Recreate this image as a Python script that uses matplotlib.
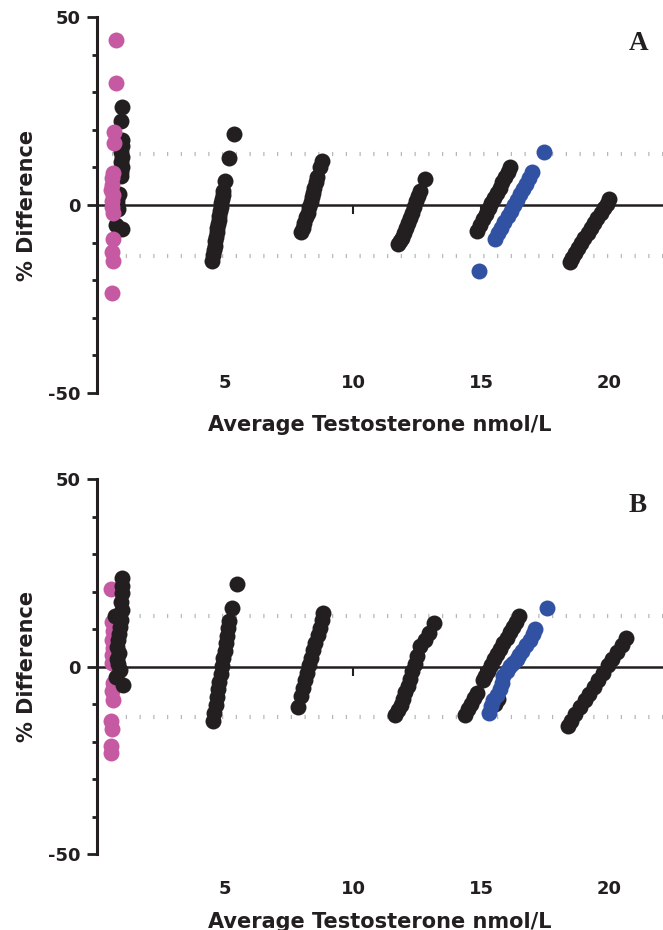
import matplotlib
matplotlib.use('Agg')
import matplotlib.pyplot as plt
from matplotlib.ticker import MultipleLocator

plt.rcParams['font.family'] = ['DejaVu Sans']
plt.rcParams['font.weight'] = 'bold'
plt.rcParams['axes.unicode_minus'] = False  # Prism-style hyphen on "-50"

BLACK = '#231f20'
PINK = '#c65aa2'
BLUE = '#3151a3'

# ---- panel A ----
# lowest level (pink = below the limit, black = the rest)
a_low_pink_x = [0.76, 0.74, 0.68, 0.67, 0.62, 0.58, 0.60, 0.56, 0.63, 0.59, 0.57, 0.61, 0.62, 0.58, 0.61, 0.57]
a_low_pink_y = [43.8, 32.4, 19.3, 16.5, 8.6, 7.2, 5.4, 3.9, 2.6, 1.0, -0.6, -2.1, -9.0, -12.6, -14.8, -23.4]
a_low_x = [0.99, 0.94, 0.98, 0.96, 0.95, 0.97, 0.94, 0.96, 0.95, 0.93, 0.84, 0.80, 0.78, 0.82, 0.76, 0.96]
a_low_y = [26.2, 22.3, 17.4, 15.6, 14.1, 12.7, 11.4, 10.1, 8.9, 7.6, 3.0, 1.4, 0.2, -1.0, -5.3, -6.3]

a_5_x = [5.36, 5.17, 5.00, 4.93, 4.91, 4.88, 4.86, 4.83, 4.80, 4.78, 4.75, 4.72, 4.70, 4.67, 4.64, 4.62, 4.59, 4.56, 4.53, 4.50]
a_5_y = [18.9, 12.4, 6.5, 3.8, 2.7, 1.5, 0.6, -0.5, -1.7, -2.8, -3.9, -5.0, -6.2, -7.3, -8.5, -9.6, -10.8, -12.0, -13.4, -14.8]

a_8_x = [8.78, 8.70, 8.58, 8.54, 8.49, 8.44, 8.39, 8.34, 8.28, 8.22, 8.16, 8.10, 8.04, 7.97]
a_8_y = [11.8, 10.2, 7.4, 6.0, 4.6, 3.3, 2.0, 0.8, -0.6, -2.0, -3.3, -4.7, -6.0, -7.3]

a_12_x = [12.79, 12.62, 12.55, 12.47, 12.39, 12.31, 12.23, 12.15, 12.07, 11.99, 11.91, 11.84, 11.77]
a_12_y = [6.9, 3.8, 2.4, 1.0, -0.6, -2.1, -3.5, -4.9, -6.2, -7.5, -8.7, -9.6, -10.4]

a_15_x = [16.13, 16.03, 15.93, 15.82, 15.72, 15.61, 15.50, 15.40, 15.29, 15.18, 15.06, 14.95, 14.83]
a_15_y = [10.0, 8.7, 7.4, 6.0, 4.6, 3.3, 1.9, 0.5, -0.9, -2.3, -3.8, -5.3, -6.8]

a_15_blue_x = [17.47, 16.98, 16.86, 16.74, 16.62, 16.50, 16.39, 16.27, 16.15, 16.03, 15.91, 15.79, 15.67, 15.55, 14.92]
a_15_blue_y = [14.0, 8.7, 7.2, 5.7, 4.3, 2.8, 1.4, -0.1, -1.6, -3.0, -4.5, -6.0, -7.5, -9.0, -17.6]

a_20_x = [20.01, 19.90, 19.78, 19.66, 19.54, 19.42, 19.29, 19.16, 19.03, 18.90, 18.78, 18.66, 18.55, 18.45]
a_20_y = [1.6, 0.4, -0.9, -2.2, -3.5, -4.8, -6.1, -7.5, -8.9, -10.2, -11.5, -12.8, -14.0, -15.2]

# ---- panel B ----
b_low_pink_x = [0.56, 0.60, 0.62, 0.58, 0.64, 0.60, 0.57, 0.61, 0.59, 0.62, 0.56, 0.58, 0.55, 0.56]
b_low_pink_y = [20.8, 12.0, 9.5, 7.0, 5.0, 3.0, 1.0, -4.4, -6.4, -8.8, -14.6, -16.6, -21.2, -23.0]
b_low_x = [0.97, 0.99, 0.98, 0.95, 0.97, 0.72, 0.93, 0.90, 0.86, 0.82, 0.80, 0.85, 0.78, 0.83, 0.88, 0.74, 1.00]
b_low_y = [23.6, 21.6, 19.6, 17.2, 15.2, 13.4, 12.5, 10.6, 8.8, 7.0, 5.3, 3.6, 2.0, 0.6, -0.8, -2.8, -4.8]

b_5_x = [5.46, 5.26, 5.17, 5.13, 5.08, 5.03, 4.98, 4.93, 4.88, 4.83, 4.78, 4.73, 4.68, 4.63, 4.58, 4.52]
b_5_y = [21.9, 15.6, 12.1, 10.2, 8.2, 6.2, 4.2, 2.2, 0.2, -1.9, -4.0, -6.0, -8.1, -10.2, -12.4, -14.6]

b_8_x = [8.84, 8.77, 8.69, 8.61, 8.53, 8.45, 8.37, 8.29, 8.21, 8.13, 8.05, 7.97, 7.84]
b_8_y = [14.3, 12.4, 10.4, 8.4, 6.4, 4.4, 2.4, 0.4, -1.6, -3.6, -5.6, -7.8, -10.8]

b_12_x = [13.14, 12.98, 12.80, 12.62, 12.49, 12.40, 12.31, 12.22, 12.13, 12.04, 11.95, 11.86, 11.77, 11.64]
b_12_y = [11.6, 9.0, 7.2, 5.4, 2.7, 0.7, -1.3, -3.2, -5.1, -6.9, -8.7, -10.3, -11.6, -12.8]

b_15_x = [16.46, 16.35, 16.23, 16.11, 15.99, 15.87, 15.75, 15.63, 15.51, 15.39, 15.26, 15.15, 15.06,
          14.83, 14.72, 14.60, 14.48, 14.38, 15.65, 15.55]
b_15_y = [13.4, 12.0, 10.6, 9.1, 7.7, 6.2, 4.8, 3.3, 1.9, 0.4, -1.1, -2.4, -3.5,
          -7.0, -8.4, -9.9, -11.4, -12.8, -8.6, -10.0]

b_15_blue_x = [17.59, 17.11, 17.01, 16.91, 16.75, 16.59, 16.49, 16.39, 16.26, 16.13, 16.00, 15.87, 15.80, 15.74, 15.61, 15.48, 15.38, 15.29]
b_15_blue_y = [15.6, 9.9, 8.6, 7.2, 5.7, 4.1, 3.0, 1.9, 1.0, 0.1, -1.2, -2.6, -4.4, -6.1, -7.5, -8.8, -10.6, -12.3]

b_20_x = [20.66, 20.48, 20.30, 20.12, 19.94, 19.76, 19.58, 19.40, 19.22, 19.04, 18.86, 18.68, 18.52, 18.38]
b_20_y = [7.6, 5.8, 4.0, 2.1, 0.3, -1.6, -3.5, -5.4, -7.2, -9.0, -10.9, -12.7, -14.4, -15.9]

# limits of agreement (dotted lines)
upper_loa = 13.6
lower_loa = -13.5

xticks = [5, 10, 15, 20]
yticks = [-50, 0, 50]

fig = plt.figure(figsize=(6.63, 9.30), dpi=100)
ax_a = fig.add_axes([0.1463, 0.5774, 0.8537, 0.4043])
ax_b = fig.add_axes([0.1463, 0.0817, 0.8537, 0.4032])

# (axes, letter, pink, black, blue, tick label pad, xlabel pad, pink on top?)
panels = [
    (ax_a, 'A', a_low_pink_x, a_low_pink_y, a_low_x + a_5_x + a_8_x + a_12_x + a_15_x + a_20_x,
     a_low_y + a_5_y + a_8_y + a_12_y + a_15_y + a_20_y, a_15_blue_x, a_15_blue_y, 115, 17, True),
    (ax_b, 'B', b_low_pink_x, b_low_pink_y, b_low_x + b_5_x + b_8_x + b_12_x + b_15_x + b_20_x,
     b_low_y + b_5_y + b_8_y + b_12_y + b_15_y + b_20_y, b_15_blue_x, b_15_blue_y, 147, 10, False),
]

ms = 132
for ax, letter, px, py, kx, ky, bx, by, tpad, lpad, pink_top in panels:
    ax.set_xlim(0, 22.1)
    ax.set_ylim(-50, 50)

    # dotted limits of agreement
    for v in (upper_loa, lower_loa):
        ax.hlines(v, 0.6, 22.1, colors='#b8b8b8', linewidth=3, linestyles=(0, (0.3, 3)), zorder=1)

    ax.scatter(kx, ky, s=ms, color=BLACK, linewidths=0, zorder=3)
    ax.scatter(px, py, s=ms, color=PINK, linewidths=0, zorder=3.5 if pink_top else 2.8)
    ax.scatter(bx, by, s=ms, color=BLUE, linewidths=0, zorder=4)

    # axes styling (Prism look: x axis drawn at y = 0)
    ax.spines['top'].set_visible(False)
    ax.spines['right'].set_visible(False)
    ax.spines['bottom'].set_position(('data', 0))
    ax.spines['bottom'].set_linewidth(1.8)
    ax.spines['bottom'].set_color(BLACK)
    ax.spines['left'].set_linewidth(2.2)
    ax.spines['left'].set_color(BLACK)
    ax.spines['left'].set_bounds(-50, 50)

    ax.set_xticks(xticks)
    ax.set_yticks(yticks)
    ax.yaxis.set_minor_locator(MultipleLocator(10))
    ax.tick_params(axis='x', direction='out', length=6.5, width=1.5, pad=tpad,
                   labelsize=13, colors=BLACK)
    ax.tick_params(axis='y', which='major', direction='out', length=7, width=2,
                   pad=5, labelsize=13, colors=BLACK)
    ax.tick_params(axis='y', which='minor', direction='out', length=3.5, width=2, colors=BLACK)

    ax.set_xlabel('Average Testosterone nmol/L', fontsize=15, fontweight='bold', labelpad=lpad, color=BLACK)
    ax.set_ylabel('% Difference', fontsize=15, fontweight='bold', labelpad=8, color=BLACK)

    ax.text(0.956, 0.93, letter, transform=ax.transAxes, ha='center', va='center',
            fontsize=19.5, fontweight='bold', family='Liberation Serif', color=BLACK)

fig.savefig('out.png', dpi=100)
